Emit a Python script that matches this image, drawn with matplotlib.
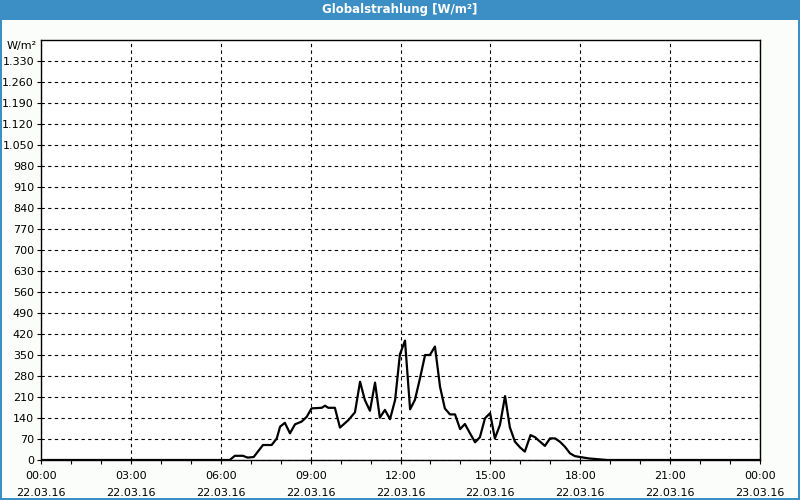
import matplotlib
matplotlib.use("Agg")
import matplotlib.pyplot as plt
from matplotlib.patches import Rectangle
from matplotlib.ticker import MultipleLocator, FuncFormatter

title = "Globalstrahlung [W/m²]"
unit = "W/m²"
x_tick_labels = ["00:00\n22.03.16", "03:00\n22.03.16", "06:00\n22.03.16", "09:00\n22.03.16",
                 "12:00\n22.03.16", "15:00\n22.03.16", "18:00\n22.03.16", "21:00\n22.03.16",
                 "00:00\n23.03.16"]

hours = [0.0, 6.3, 6.47, 6.74, 6.9, 7.1, 7.41, 7.7, 7.87, 7.98, 8.14, 8.31, 8.48, 8.7, 8.87,
         9.03, 9.37, 9.48, 9.59, 9.81, 9.98, 10.26, 10.48, 10.65, 10.81, 10.98, 11.15, 11.31,
         11.48, 11.65, 11.82, 11.98, 12.15, 12.32, 12.48, 12.65, 12.82, 12.98, 13.15, 13.32,
         13.48, 13.65, 13.82, 13.99, 14.15, 14.32, 14.49, 14.65, 14.82, 14.99, 15.15, 15.32,
         15.49, 15.65, 15.82, 15.99, 16.15, 16.34, 16.49, 16.66, 16.82, 16.99, 17.16, 17.32,
         17.49, 17.66, 17.82, 17.99, 18.3, 18.66, 18.9, 24.0]
values = [0, 0, 14, 14, 8, 10, 50, 50, 72, 111, 124, 89, 119, 128, 144,
          172, 174, 181, 174, 174, 108, 133, 159, 261, 200, 164, 258, 141,
          167, 136, 200, 352, 398, 169, 200, 272, 350, 350, 378, 244,
          172, 152, 152, 103, 120, 89, 59, 76, 139, 156, 72, 117,
          213, 109, 61, 42, 28, 83, 76, 61, 47, 72, 72, 61,
          44, 22, 13, 10, 5, 2, 0, 0]

W, H = 800, 500
fig = plt.figure(figsize=(W / 100, H / 100), dpi=100)
fig.patch.set_facecolor("#3c8fc4")
# inner light panel
fig.add_artist(Rectangle((2 / W, 2 / H), (W - 4) / W, (H - 22) / H, transform=fig.transFigure,
                         facecolor="#fbfdfb", edgecolor="none", zorder=0))
fig.text(0.5, 1 - 10 / H, title, ha="center", va="center", color="white",
         fontsize=8.5, fontweight="bold", family="DejaVu Sans")

ax = fig.add_axes([41 / W, 40 / H, 719 / W, 420 / H])
ax.set_facecolor("white")
ax.plot(hours, values, color="black", lw=1.6, zorder=3)
ax.set_xlim(0, 24)
ax.set_ylim(0, 1400)

ax.set_yticks(range(0, 1400, 70))
ax.yaxis.set_major_formatter(FuncFormatter(lambda v, p: f"{int(v):,}".replace(",", ".")))
ax.set_xticks(range(0, 25, 3))
ax.set_xticklabels(x_tick_labels, linespacing=1.9)
ax.xaxis.set_minor_locator(MultipleLocator(1))

ax.grid(True, which="major", color="black", linestyle=(0, (3, 3)), linewidth=0.8)
ax.tick_params(axis="both", which="major", length=3, width=0.8, labelsize=8, color="black", pad=2)
ax.tick_params(axis="x", which="minor", length=3, width=0.8)
ax.tick_params(axis="x", which="major", pad=5)
for s in ax.spines.values():
    s.set_color("black")
    s.set_linewidth(1)

fig.text(37 / W, 1 - 46 / H, unit, ha="right", va="center", fontsize=8)

fig.savefig("out.png", dpi=100, facecolor=fig.get_facecolor())
